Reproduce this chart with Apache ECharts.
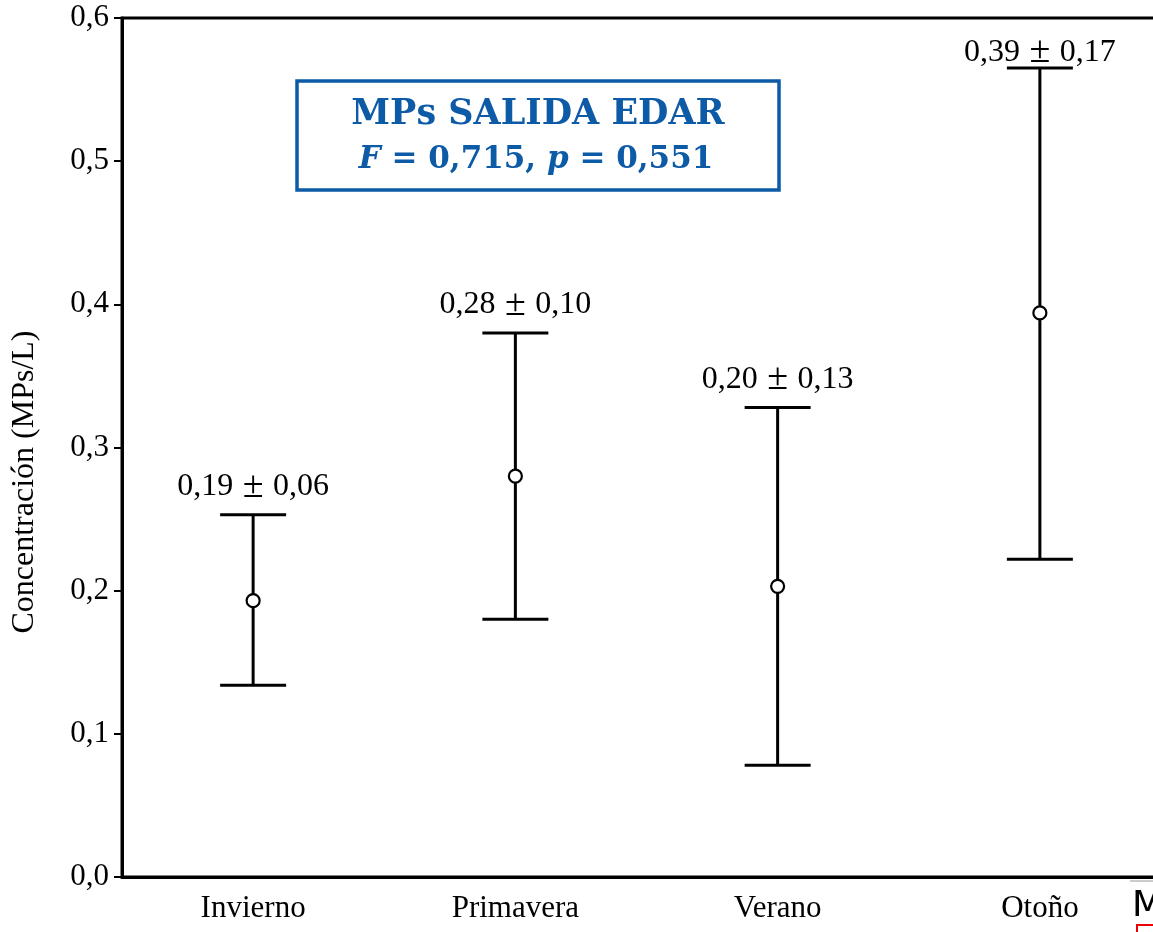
<!DOCTYPE html>
<html>
<head>
<meta charset="utf-8">
<script src="https://cdn.jsdelivr.net/npm/echarts@6/dist/echarts.min.js"></script>
<style>
  html, body { margin: 0; padding: 0; background: #fff; }
  #chart { width: 1153px; height: 932px; }
</style>
</head>
<body>
<div id="chart"></div>
<script>
// estaciones y valores medios con sus intervalos
var categories = ['Invierno', 'Primavera', 'Verano', 'Otoño'];
var means = [0.193, 0.280, 0.203, 0.394];
var lowers = [0.134, 0.180, 0.078, 0.222];
var uppers = [0.253, 0.380, 0.328, 0.565];
var meanTexts = ['0,19', '0,28', '0,20', '0,39'];
var sdTexts = ['0,06', '0,10', '0,13', '0,17'];
var yTicks = [0, 0.1, 0.2, 0.3, 0.4, 0.5, 0.6];

var serif = "'Liberation Serif', 'Times New Roman', serif";
var blue = '#0d5aa7';

var chart = echarts.init(document.getElementById('chart'));

var errData = categories.map(function (c, i) {
  return [i, lowers[i], uppers[i]];
});

var option = {
  backgroundColor: '#fff',
  animation: false,
  grid: {
    left: 122, top: 18, width: 1049, height: 859,
    outerBoundsMode: 'none',
    containLabel: false,
    show: true, borderColor: '#000', borderWidth: 3
  },
  xAxis: {
    type: 'category',
    data: categories,
    axisLine: { lineStyle: { color: '#000', width: 3 } },
    axisTick: { alignWithLabel: true, length: 12, lineStyle: { color: '#000', width: 3 } },
    axisLabel: { color: '#000', fontFamily: serif, fontSize: 31, margin: 16 },
    splitLine: { show: false }
  },
  yAxis: {
    type: 'value',
    min: yTicks[0],
    max: yTicks[yTicks.length - 1],
    interval: 0.1,
    axisLine: { show: true, lineStyle: { color: '#000', width: 3 } },
    axisTick: { show: true, length: 8, lineStyle: { color: '#000', width: 2 } },
    axisLabel: {
      color: '#000', fontFamily: serif, fontSize: 31, margin: 13,
      formatter: function (v) { return v.toFixed(1).replace('.', ','); }
    },
    splitLine: { show: false }
  },
  series: [
    {
      type: 'custom',
      data: errData,
      z: 3,
      renderItem: function (params, api) {
        var lo = api.coord([api.value(0), api.value(1)]);
        var hi = api.coord([api.value(0), api.value(2)]);
        var hw = 33;
        var st = { stroke: '#000', lineWidth: 3 };
        var gap = (hi[1] - params.coordSys.y) < 70 ? 16 : 28;
        var i = params.dataIndex;
        return {
          type: 'group',
          children: [
            { type: 'line', shape: { x1: lo[0], y1: lo[1], x2: hi[0], y2: hi[1] }, style: st },
            { type: 'line', shape: { x1: lo[0] - hw, y1: lo[1], x2: lo[0] + hw, y2: lo[1] }, style: st },
            { type: 'line', shape: { x1: hi[0] - hw, y1: hi[1], x2: hi[0] + hw, y2: hi[1] }, style: st },
            {
              type: 'text',
              style: {
                x: hi[0], y: hi[1] - gap,
                text: meanTexts[i] + '{pm| ± }' + sdTexts[i],
                align: 'center', verticalAlign: 'middle',
                font: '32px ' + serif, fill: '#000',
                rich: { pm: { font: '38px ' + serif, fill: '#000' } }
              }
            }
          ]
        };
      }
    },
    {
      type: 'scatter',
      data: means.map(function (m, i) { return [i, m]; }),
      symbol: 'circle',
      symbolSize: 13,
      z: 4,
      itemStyle: { color: '#fff', opacity: 1, borderColor: '#000', borderWidth: 2.2 }
    }
  ],
  graphic: [
    {
      type: 'text',
      x: 25, y: 482,
      rotation: Math.PI / 2,
      style: {
        text: 'Concentración (MPs/L)',
        align: 'center', verticalAlign: 'middle',
        font: '32px ' + serif, fill: '#000'
      }
    },
    {
      type: 'rect',
      shape: { x: 297, y: 81, width: 482, height: 109 },
      style: { fill: '#fff', stroke: blue, lineWidth: 3.5 },
      z: 10
    },
    {
      type: 'text',
      x: 538, y: 115,
      style: {
        text: 'MPs SALIDA EDAR',
        align: 'center', verticalAlign: 'middle',
        font: "bold 35px 'DejaVu Serif', serif", fill: blue
      },
      z: 11
    },
    {
      type: 'text',
      x: 536, y: 160,
      style: {
        text: '{i|F} = 0,715, {i|p} = 0,551',
        align: 'center', verticalAlign: 'middle',
        font: "bold 31px 'DejaVu Serif', serif", fill: blue,
        rich: { i: { font: "italic bold 31px 'DejaVu Serif', serif", fill: blue } }
      },
      z: 11
    },
    {
      type: 'line',
      shape: { x1: 1130, y1: 881, x2: 1153, y2: 881 },
      style: { stroke: '#ccc', lineWidth: 2 }
    },
    {
      type: 'text',
      x: 1132, y: 889,
      style: { text: 'M', font: "36px 'DejaVu Sans', sans-serif", fill: '#000' }
    },
    {
      type: 'rect',
      shape: { x: 1137, y: 925, width: 30, height: 20 },
      style: { fill: 'none', stroke: '#e00', lineWidth: 2 }
    }
  ]
};

chart.setOption(option);
</script>
</body>
</html>
